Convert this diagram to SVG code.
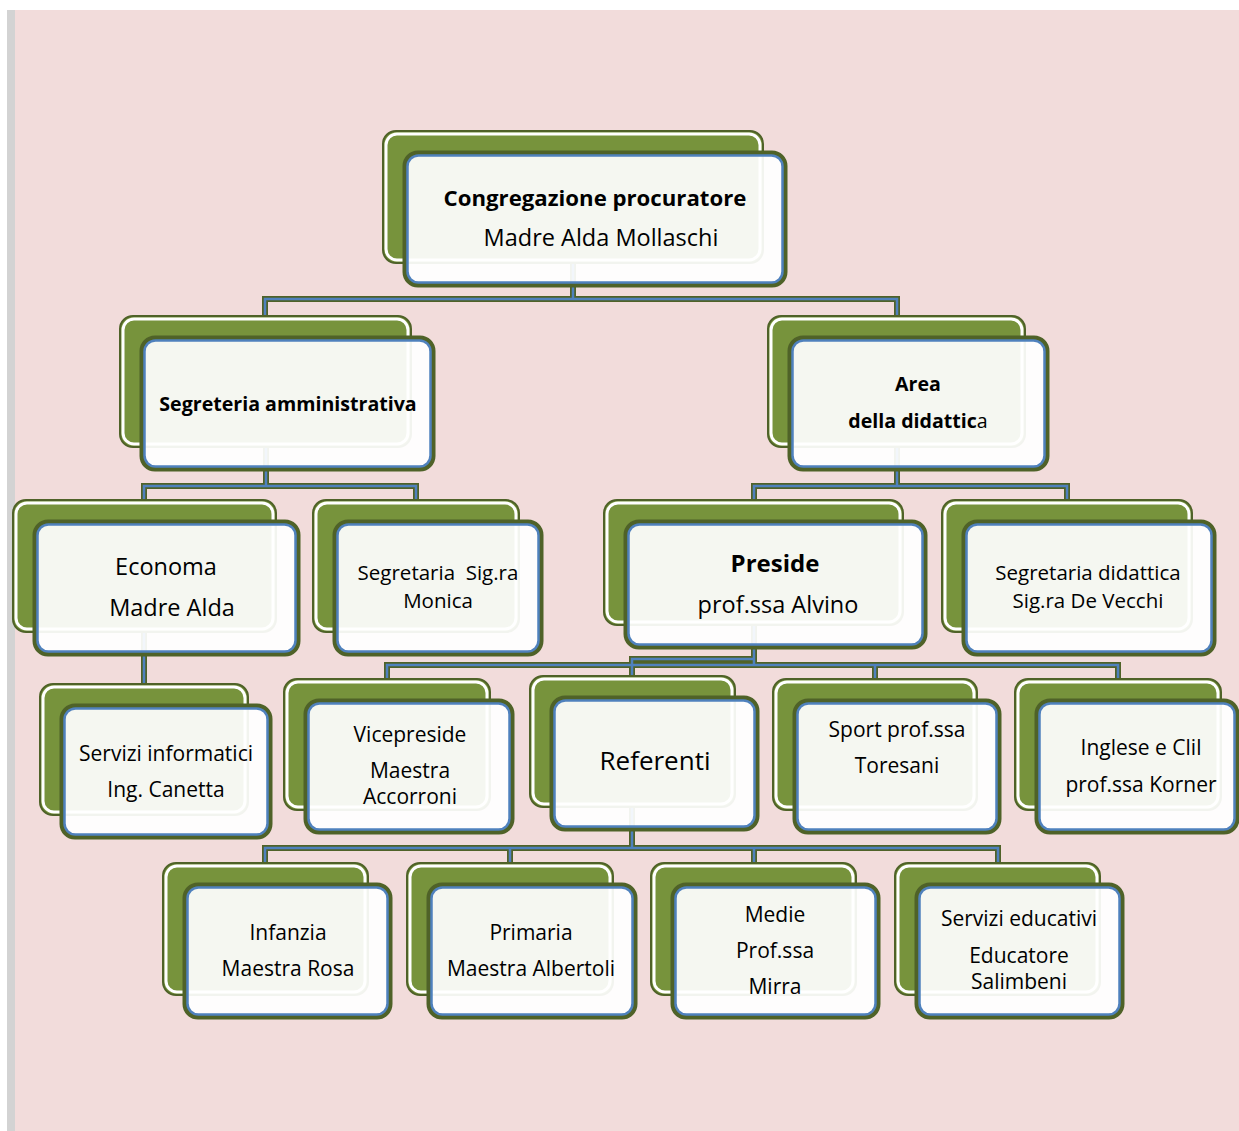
<svg xmlns="http://www.w3.org/2000/svg" width="1239" height="1131" viewBox="0 0 1239 1131">
<style>
.back{fill:#77933C;stroke:#4F6228;stroke-width:2}
.backin{fill:none;stroke:#FFFFFF;stroke-width:3}
.front{fill:#FFFFFF;fill-opacity:0.93;stroke:#4F6228;stroke-width:5}
.frontin{fill:none;stroke:#4F81BD;stroke-width:2.5}
.co{fill:none;stroke:#4F6228;stroke-width:6;stroke-linejoin:miter}
.ci{fill:none;stroke:#4F81BD;stroke-width:2.5;stroke-linejoin:miter}
text{font-family:"Open Sans","Noto Sans","Liberation Sans",sans-serif;fill:#000;text-anchor:middle}
.b{font-weight:bold}
.s19{font-size:20.5px}
.s20{font-size:21px}
.s22{font-size:23.5px}
.bh{font-size:19.6px;font-weight:bold}
</style>
<rect x="0" y="0" width="1239" height="1131" fill="#FFFFFF"/>
<rect x="15" y="10" width="1224" height="1121" fill="#F2DCDB"/>
<rect x="7" y="10" width="8" height="1121" fill="#D3D3D3"/>
<g id="connectors">
<path class="co" d="M573 263V299M265 316V299H897V316M266 447V486M144 500V486H416V500M897 447V486M754 500V486H1067V500M144 632V684M754 625V665M387 679V665H1118V679M875 665V679M754 659H632V676M632 807V848M265 863V848H998V863M510 848V863M754 848V863"/>
<path class="ci" d="M573 263V299M265 316V299H897V316M266 447V486M144 500V486H416V500M897 447V486M754 500V486H1067V500M144 632V684M754 625V665M387 679V665H1118V679M875 665V679M754 659H632V676M632 807V848M265 863V848H998V863M510 848V863M754 848V863"/>
</g>
<g id="n-root">
<rect class="back" x="383" y="131" width="380" height="132" rx="13"/><rect class="backin" x="386" y="134" width="374" height="126" rx="11"/>
<rect class="front" x="405" y="153" width="380" height="132" rx="13"/><rect class="frontin" x="407.5" y="155.5" width="375" height="127" rx="11"/>
<text class="b" x="595" y="206" style="font-size:22.2px">Congregazione procuratore</text>
<text class="s22" x="601" y="246">Madre Alda Mollaschi</text>
</g>
<g id="n-segamm">
<rect class="back" x="120" y="316" width="291" height="131" rx="13"/><rect class="backin" x="123" y="319" width="285" height="125" rx="11"/>
<rect class="front" x="142" y="338" width="291" height="131" rx="13"/><rect class="frontin" x="144.5" y="340.5" width="286" height="126" rx="11"/>
<text class="bh" x="288" y="411">Segreteria amministrativa</text>
</g>
<g id="n-area">
<rect class="back" x="768" y="316" width="257" height="131" rx="13"/><rect class="backin" x="771" y="319" width="251" height="125" rx="11"/>
<rect class="front" x="790" y="338" width="257" height="131" rx="13"/><rect class="frontin" x="792.5" y="340.5" width="252" height="126" rx="11"/>
<text class="bh" x="918" y="391">Area</text>
<text x="918" y="428" style="font-size:19.6px"><tspan class="b">della didattic</tspan>a</text>
</g>
<g id="n-economa">
<rect class="back" x="13" y="500" width="263" height="132" rx="13"/><rect class="backin" x="16" y="503" width="257" height="126" rx="11"/>
<rect class="front" x="35" y="522" width="263" height="132" rx="13"/><rect class="frontin" x="37.5" y="524.5" width="258" height="127" rx="11"/>
<text class="s22" x="166" y="575">Economa</text>
<text class="s22" x="172" y="616">Madre Alda</text>
</g>
<g id="n-monica">
<rect class="back" x="313" y="500" width="206" height="132" rx="13"/><rect class="backin" x="316" y="503" width="200" height="126" rx="11"/>
<rect class="front" x="335" y="522" width="206" height="132" rx="13"/><rect class="frontin" x="337.5" y="524.5" width="201" height="127" rx="11"/>
<text class="s19" x="438" y="580" xml:space="preserve">Segretaria  Sig.ra</text>
<text class="s19" x="438" y="608">Monica</text>
</g>
<g id="n-preside">
<rect class="back" x="604" y="500" width="299" height="125" rx="13"/><rect class="backin" x="607" y="503" width="293" height="119" rx="11"/>
<rect class="front" x="626" y="522" width="299" height="125" rx="13"/><rect class="frontin" x="628.5" y="524.5" width="294" height="120" rx="11"/>
<text class="b" x="775" y="572" style="font-size:24px">Preside</text>
<text class="s22" x="778" y="613">prof.ssa Alvino</text>
</g>
<g id="n-segdid">
<rect class="back" x="942" y="500" width="250" height="132" rx="13"/><rect class="backin" x="945" y="503" width="244" height="126" rx="11"/>
<rect class="front" x="964" y="522" width="250" height="132" rx="13"/><rect class="frontin" x="966.5" y="524.5" width="245" height="127" rx="11"/>
<text class="s19" x="1088" y="580">Segretaria didattica</text>
<text class="s19" x="1088" y="608">Sig.ra De Vecchi</text>
</g>
<g id="n-informatici">
<rect class="back" x="40" y="684" width="208" height="131" rx="13"/><rect class="backin" x="43" y="687" width="202" height="125" rx="11"/>
<rect class="front" x="62" y="706" width="208" height="131" rx="13"/><rect class="frontin" x="64.5" y="708.5" width="203" height="126" rx="11"/>
<text class="s20" x="166" y="761">Servizi informatici</text>
<text class="s20" x="166" y="797">Ing. Canetta</text>
</g>
<g id="n-vicepreside">
<rect class="back" x="284" y="679" width="206" height="131" rx="13"/><rect class="backin" x="287" y="682" width="200" height="125" rx="11"/>
<rect class="front" x="306" y="701" width="206" height="131" rx="13"/><rect class="frontin" x="308.5" y="703.5" width="201" height="126" rx="11"/>
<text class="s20" x="410" y="742">Vicepreside</text>
<text class="s20" x="410" y="778">Maestra</text>
<text class="s20" x="410" y="804">Accorroni</text>
</g>
<g id="n-referenti">
<rect class="back" x="530" y="676" width="205" height="131" rx="13"/><rect class="backin" x="533" y="679" width="199" height="125" rx="11"/>
<rect class="front" x="552" y="698" width="205" height="131" rx="13"/><rect class="frontin" x="554.5" y="700.5" width="200" height="126" rx="11"/>
<text x="655" y="770" style="font-size:26px">Referenti</text>
</g>
<g id="n-sport">
<rect class="back" x="773" y="679" width="204" height="131" rx="13"/><rect class="backin" x="776" y="682" width="198" height="125" rx="11"/>
<rect class="front" x="795" y="701" width="204" height="131" rx="13"/><rect class="frontin" x="797.5" y="703.5" width="199" height="126" rx="11"/>
<text class="s20" x="897" y="737">Sport prof.ssa</text>
<text class="s20" x="897" y="773">Toresani</text>
</g>
<g id="n-inglese">
<rect class="back" x="1015" y="679" width="206" height="131" rx="13"/><rect class="backin" x="1018" y="682" width="200" height="125" rx="11"/>
<rect class="front" x="1037" y="701" width="200" height="131" rx="13"/><rect class="frontin" x="1039.5" y="703.5" width="195" height="126" rx="11"/>
<text class="s20" x="1141" y="755">Inglese e Clil</text>
<text class="s20" x="1141" y="792">prof.ssa Korner</text>
</g>
<g id="n-infanzia">
<rect class="back" x="163" y="863" width="205" height="132" rx="13"/><rect class="backin" x="166" y="866" width="199" height="126" rx="11"/>
<rect class="front" x="185" y="885" width="205" height="132" rx="13"/><rect class="frontin" x="187.5" y="887.5" width="200" height="127" rx="11"/>
<text class="s20" x="288" y="940">Infanzia</text>
<text class="s20" x="288" y="976">Maestra Rosa</text>
</g>
<g id="n-primaria">
<rect class="back" x="407" y="863" width="206" height="132" rx="13"/><rect class="backin" x="410" y="866" width="200" height="126" rx="11"/>
<rect class="front" x="429" y="885" width="206" height="132" rx="13"/><rect class="frontin" x="431.5" y="887.5" width="201" height="127" rx="11"/>
<text class="s20" x="531" y="940">Primaria</text>
<text class="s20" x="531" y="976">Maestra Albertoli</text>
</g>
<g id="n-medie">
<rect class="back" x="651" y="863" width="205" height="132" rx="13"/><rect class="backin" x="654" y="866" width="199" height="126" rx="11"/>
<rect class="front" x="673" y="885" width="205" height="132" rx="13"/><rect class="frontin" x="675.5" y="887.5" width="200" height="127" rx="11"/>
<text class="s20" x="775" y="922">Medie</text>
<text class="s20" x="775" y="958">Prof.ssa</text>
<text class="s20" x="775" y="994">Mirra</text>
</g>
<g id="n-educativi">
<rect class="back" x="895" y="863" width="205" height="132" rx="13"/><rect class="backin" x="898" y="866" width="199" height="126" rx="11"/>
<rect class="front" x="917" y="885" width="205" height="132" rx="13"/><rect class="frontin" x="919.5" y="887.5" width="200" height="127" rx="11"/>
<text class="s20" x="1019" y="926">Servizi educativi</text>
<text class="s20" x="1019" y="963">Educatore</text>
<text class="s20" x="1019" y="989">Salimbeni</text>
</g>
</svg>
